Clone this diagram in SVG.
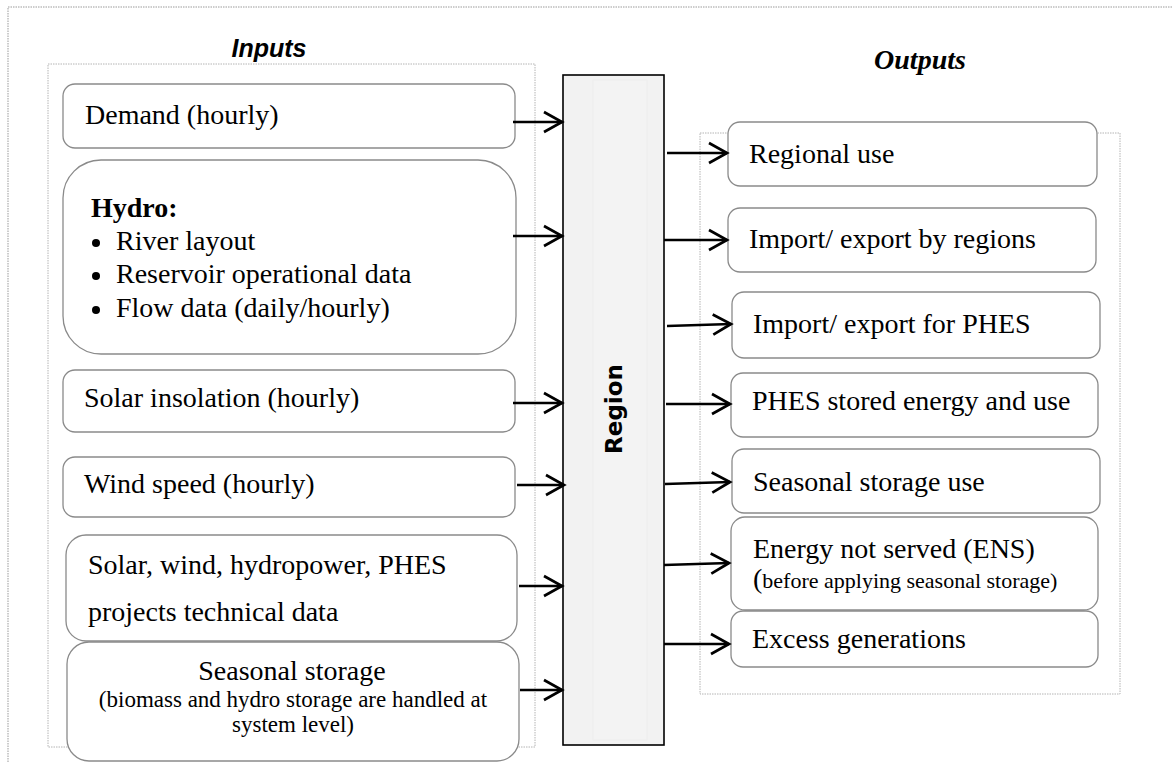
<svg xmlns="http://www.w3.org/2000/svg" width="1173" height="763" viewBox="0 0 1173 763">
  <style>
    .frame { fill: none; stroke: #9a9a9a; stroke-width: 1; stroke-dasharray: 1.5 1; }
    .group { fill: none; stroke: #b4b4b4; stroke-width: 1; stroke-dasharray: 1.5 1; }
    .box { fill: #ffffff; stroke: #8a8a8a; stroke-width: 1.3; }
    .t { font-family: "Liberation Serif", "Times New Roman", serif; font-size: 28px; fill: #000; }
    .ts { font-family: "Liberation Serif", "Times New Roman", serif; font-size: 23px; fill: #000; }
    .hdr-in { font-family: "Liberation Sans", Arial, sans-serif; font-size: 25px; font-weight: bold; font-style: italic; fill: #000; }
    .hdr-out { font-family: "Liberation Serif", "Times New Roman", serif; font-size: 28px; font-weight: bold; font-style: italic; fill: #000; }
    .region { font-family: "DejaVu Sans", Verdana, sans-serif; font-size: 23px; font-weight: bold; fill: #000; }
    .arrow { fill: none; stroke: #000; stroke-width: 2.7; marker-end: url(#head); }
  </style>
  <defs>
    <marker id="head" markerUnits="userSpaceOnUse" markerWidth="22" markerHeight="24" viewBox="0 0 22 24" refX="19" refY="12" orient="auto">
      <path d="M1,2 L19,12 L1,22" fill="none" stroke="#000" stroke-width="2.7" stroke-linejoin="miter"/>
    </marker>
  </defs>

  <rect width="1173" height="763" fill="#ffffff"/>

  <!-- outer page frame -->
  <rect class="frame" x="8" y="7" width="1200" height="800"/>

  <!-- section headings -->
  <text class="hdr-in" x="269" y="57" text-anchor="middle">Inputs</text>
  <text class="hdr-out" x="920" y="69" text-anchor="middle">Outputs</text>

  <!-- dotted groupings -->
  <rect class="group" x="48" y="64" width="487" height="683"/>
  <rect class="group" x="700" y="133" width="420" height="561"/>

  <!-- input nodes -->
  <g id="in-demand">
    <rect class="box" x="63" y="84" width="452" height="64" rx="12"/>
    <text class="t" x="85" y="124">Demand (hourly)</text>
  </g>
  <g id="in-hydro">
    <rect class="box" x="63" y="160" width="453" height="194" rx="38"/>
    <text class="t" x="91" y="217" font-weight="bold">Hydro:</text>
    <circle cx="96" cy="243" r="4" fill="#000"/>
    <text class="t" x="116" y="250">River layout</text>
    <circle cx="96" cy="276" r="4" fill="#000"/>
    <text class="t" x="116" y="283">Reservoir operational data</text>
    <circle cx="96" cy="310" r="4" fill="#000"/>
    <text class="t" x="116" y="317">Flow data (daily/hourly)</text>
  </g>
  <g id="in-solar">
    <rect class="box" x="63" y="370" width="452" height="62" rx="12"/>
    <text class="t" x="84" y="407">Solar insolation (hourly)</text>
  </g>
  <g id="in-wind">
    <rect class="box" x="63" y="457" width="452" height="60" rx="12"/>
    <text class="t" x="84" y="493">Wind speed (hourly)</text>
  </g>
  <g id="in-projects">
    <rect class="box" x="66" y="535" width="451" height="106" rx="20"/>
    <text class="t" x="88" y="574">Solar, wind, hydropower, PHES</text>
    <text class="t" x="88" y="621">projects technical data</text>
  </g>
  <g id="in-seasonal">
    <rect class="box" x="67" y="642" width="452" height="119" rx="22"/>
    <text class="t" x="292" y="680" text-anchor="middle">Seasonal storage</text>
    <text class="ts" x="293" y="707" text-anchor="middle">(biomass and hydro storage are handled at</text>
    <text class="ts" x="293" y="732" text-anchor="middle">system level)</text>
  </g>

  <!-- central region block -->
  <g id="region">
    <rect x="563" y="75" width="101" height="670" fill="#f2f2f2" stroke="#000" stroke-width="1.6"/>
    <rect x="593" y="80" width="54" height="660" fill="#f3f3f3" stroke="#ececec" stroke-width="0.8"/>
    <text class="region" transform="translate(622,409) rotate(-90)" text-anchor="middle">Region</text>
  </g>

  <!-- output nodes -->
  <g id="out-regional">
    <rect class="box" x="728" y="122" width="369" height="64" rx="12"/>
    <text class="t" x="749" y="163">Regional use</text>
  </g>
  <g id="out-import-regions">
    <rect class="box" x="728" y="208" width="368" height="64" rx="12"/>
    <text class="t" x="749" y="248">Import/ export by regions</text>
  </g>
  <g id="out-import-phes">
    <rect class="box" x="732" y="292" width="368" height="66" rx="12"/>
    <text class="t" x="753" y="333">Import/ export for PHES</text>
  </g>
  <g id="out-phes-stored">
    <rect class="box" x="731" y="373" width="367" height="64" rx="12"/>
    <text class="t" x="752" y="410">PHES stored energy and use</text>
  </g>
  <g id="out-seasonal">
    <rect class="box" x="732" y="449" width="368" height="64" rx="12"/>
    <text class="t" x="753" y="491">Seasonal storage use</text>
  </g>
  <g id="out-ens">
    <rect class="box" x="731" y="517" width="367" height="93" rx="14"/>
    <text class="t" x="753" y="558">Energy not served (ENS)</text>
    <text class="ts" x="753" y="588"><tspan font-size="28">(</tspan><tspan font-size="22">before applying seasonal storage)</tspan></text>
  </g>
  <g id="out-excess">
    <rect class="box" x="731" y="611" width="367" height="56" rx="12"/>
    <text class="t" x="752" y="648">Excess generations</text>
  </g>

  <!-- connectors -->
  <g id="connectors">
    <line class="arrow" x1="513" y1="122" x2="562" y2="122"/>
    <line class="arrow" x1="513" y1="236" x2="562" y2="236"/>
    <line class="arrow" x1="513" y1="403" x2="562" y2="403"/>
    <line class="arrow" x1="517" y1="485" x2="564" y2="485"/>
    <line class="arrow" x1="519" y1="586" x2="562" y2="586"/>
    <line class="arrow" x1="520" y1="690" x2="562" y2="690"/>

    <line class="arrow" x1="667" y1="153" x2="727" y2="153"/>
    <line class="arrow" x1="664" y1="240" x2="727" y2="240"/>
    <line class="arrow" x1="667" y1="326" x2="731" y2="324"/>
    <line class="arrow" x1="666" y1="404" x2="730" y2="404"/>
    <line class="arrow" x1="665" y1="484" x2="730" y2="482"/>
    <line class="arrow" x1="664" y1="565" x2="729" y2="563"/>
    <line class="arrow" x1="664" y1="644" x2="729" y2="644"/>
  </g>
</svg>
